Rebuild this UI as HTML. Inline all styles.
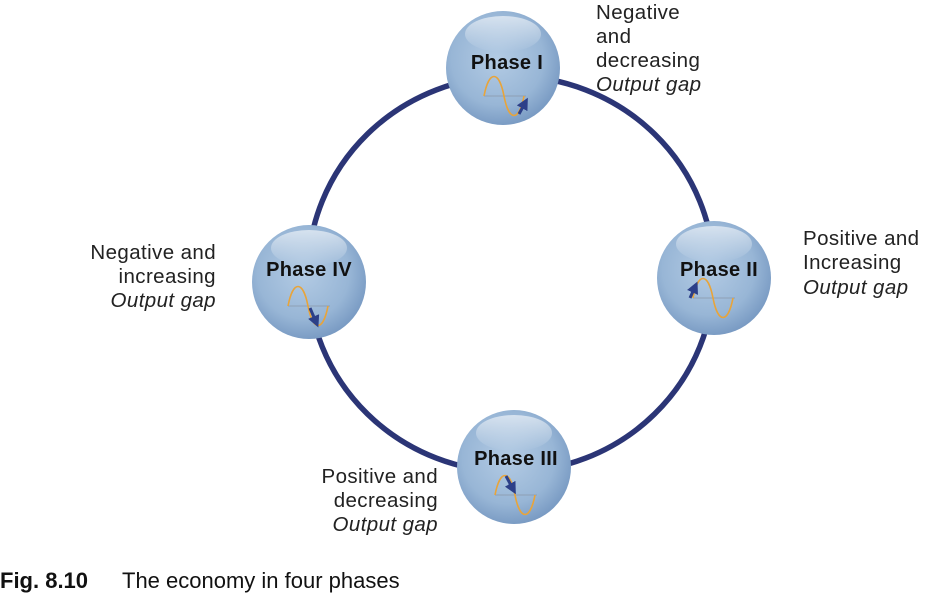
<!DOCTYPE html>
<html><head><meta charset="utf-8"><style>
body{margin:0;background:#fff;}
svg{display:block;}
text{font-family:"Liberation Sans",Arial,sans-serif;}
</style></head><body>
<svg width="932" height="598" viewBox="0 0 932 598" xmlns="http://www.w3.org/2000/svg">
<defs>
<radialGradient id="sph" cx="0.45" cy="0.42" r="0.62">
<stop offset="0" stop-color="#b3cbe4"/>
<stop offset="0.65" stop-color="#98b6d6"/>
<stop offset="1" stop-color="#7496c0"/>
</radialGradient>
<linearGradient id="hl" x1="0" y1="0" x2="0" y2="1">
<stop offset="0" stop-color="#fff" stop-opacity="0.6"/>
<stop offset="1" stop-color="#fff" stop-opacity="0"/>
</linearGradient>
<g id="ball">
<circle r="57" fill="url(#sph)"/>
<ellipse cx="0" cy="-34" rx="38" ry="18" fill="url(#hl)"/>
</g>
<g id="wave">
<line x1="-20" y1="0" x2="22" y2="0" stroke="#8a97a8" stroke-width="0.8"/>
<path d="M-20 0 C-15 -26 -5 -26 0 0 C5 26 15 26 20 0" fill="none" stroke="#e8a43a" stroke-width="1.6"/>
</g>
<marker id="ah" markerWidth="4" markerHeight="4" refX="2" refY="2" orient="auto" markerUnits="strokeWidth"><path d="M0 0 L4 2 L0 4z" fill="#2c3f88"/></marker>
</defs>
<ellipse cx="511" cy="274" rx="203" ry="198" fill="none" stroke="#2b3576" stroke-width="5.5"/>
<use href="#ball" x="503" y="68"/>
<use href="#ball" x="714" y="278"/>
<use href="#ball" x="514" y="467"/>
<use href="#ball" x="309" y="282"/>
<use href="#wave" x="504" y="96"/>
<use href="#wave" x="713" y="298"/>
<use href="#wave" x="515" y="495"/>
<use href="#wave" x="308" y="306"/>
<g stroke="#2c3f88" stroke-width="3" marker-end="url(#ah)">
<line x1="519" y1="114" x2="525" y2="103"/>
<line x1="690" y1="298" x2="695" y2="287"/>
<line x1="506" y1="476" x2="513" y2="489"/>
<line x1="310" y1="308" x2="316" y2="322"/>
</g>
<g font-size="20" font-weight="bold" fill="#111" text-anchor="middle" letter-spacing="0.3">
<text x="507" y="69">Phase I</text>
<text x="719" y="276">Phase II</text>
<text x="516" y="465">Phase III</text>
<text x="309" y="276">Phase IV</text>
</g>
<g font-size="20.5" fill="#222" letter-spacing="0.4">
<text x="596" y="19">Negative</text>
<text x="596" y="43">and</text>
<text x="596" y="67">decreasing</text>
<text x="596" y="91" font-style="italic">Output gap</text>
<text x="803" y="245">Positive and</text>
<text x="803" y="269">Increasing</text>
<text x="803" y="294" font-style="italic">Output gap</text>
<g text-anchor="end">
<text x="216" y="259">Negative and</text>
<text x="216" y="283">increasing</text>
<text x="216" y="307" font-style="italic">Output gap</text>
<text x="438" y="483">Positive and</text>
<text x="438" y="507">decreasing</text>
<text x="438" y="531" font-style="italic">Output gap</text>
</g>
</g>
<text x="0" y="588" font-size="22" fill="#111"><tspan font-weight="bold">Fig. 8.10</tspan><tspan x="122">The economy in four phases</tspan></text>
</svg>
</body></html>
